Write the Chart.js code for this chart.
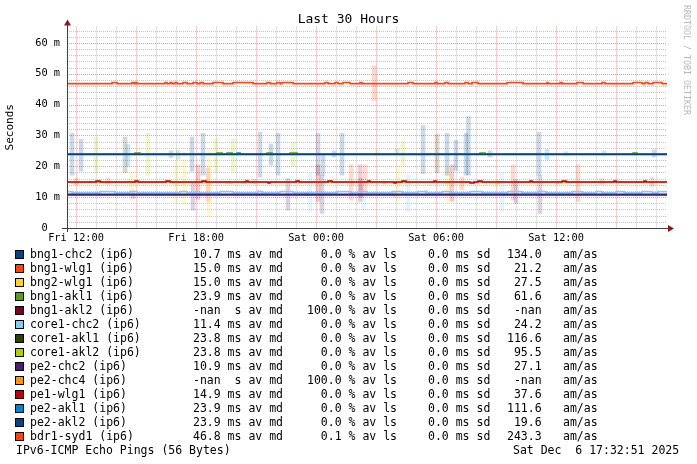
<!DOCTYPE html>
<html><head><meta charset="utf-8">
<script src="https://cdn.jsdelivr.net/npm/chart.js@4/dist/chart.umd.min.js"></script>
<style>
html,body{margin:0;padding:0;background:#fff;}
#wrap{position:relative;width:697px;height:464px;overflow:hidden;font-family:'DejaVu Sans Mono',monospace;}
canvas{position:absolute;left:0;top:0;}
.t{position:absolute;white-space:pre;font-size:11.5px;line-height:14px;color:#000;}
.sw{position:absolute;width:7px;height:7px;border:1px solid #000;}
#wm{position:absolute;left:682px;top:5px;writing-mode:vertical-rl;font-size:8.3px;line-height:10px;color:#b8b8b8;white-space:pre;}
#title{position:absolute;left:0;width:697px;top:11px;text-align:center;font-size:13px;line-height:16px;color:#000;white-space:pre;}
</style></head><body>
<div id="wrap"><canvas id="c" width="697" height="464"></canvas><div id="title"></div><div id="wm">RRDTOOL / TOBI OETIKER</div></div>
<script>
// ---------- data ----------
const START_HOUR = 11.548;   // Fri 11:33 (hours since Fri 00:00)
const END_HOUR = 41.548;     // Sat 17:33
const xTickHours = [12, 18, 24, 30, 36];
const xTickLabels = ['Fri 12:00', 'Fri 18:00', 'Sat 00:00', 'Sat 06:00', 'Sat 12:00'];
const yTickValues = [0, 10, 20, 30, 40, 50, 60];
const yTickLabels = ['0  ', '10 m', '20 m', '30 m', '40 m', '50 m', '60 m'];

const hostNames = ['bng1-chc2 (ip6)','bng1-wlg1 (ip6)','bng2-wlg1 (ip6)','bng1-akl1 (ip6)','bng1-akl2 (ip6)',
  'core1-chc2 (ip6)','core1-akl1 (ip6)','core1-akl2 (ip6)','pe2-chc2 (ip6)','pe2-chc4 (ip6)',
  'pe1-wlg1 (ip6)','pe2-akl1 (ip6)','pe2-akl2 (ip6)','bdr1-syd1 (ip6)'];
const avMedian = ['10.7','15.0','15.0','23.9','-nan','11.4','23.8','23.8','10.9','-nan','14.9','23.9','23.9','46.8'];
const medianUnit = ['ms','ms','ms','ms',' s','ms','ms','ms','ms',' s','ms','ms','ms','ms'];
const avLoss = ['0.0','0.0','0.0','0.0','100.0','0.0','0.0','0.0','0.0','100.0','0.0','0.0','0.0','0.1'];
const avSd = ['0.0','0.0','0.0','0.0','0.0','0.0','0.0','0.0','0.0','0.0','0.0','0.0','0.0','0.0'];
const amAs = ['134.0','21.2','27.5','61.6','-nan','24.2','116.6','95.5','27.1','-nan','37.6','111.6','19.6','243.3'];
const footerLeft = 'IPv6-ICMP Echo Pings (56 Bytes)';
const footerRight = 'Sat Dec  6 17:32:51 2025';
const chartTitle = 'Last 30 Hours';
const yTitle = 'Seconds';

// median lines: [hour, ms] change points (stepped)
const bng1Chc2 = [[11.548,10.7],[41.548,10.7]];
const bng1Wlg1 = [[11.548,14.9],[41.548,14.9]];
const bng2Wlg1 = [[11.548,14.9],[19.5,14.6],[19.8,14.9],[20.3,14.6],[20.5,14.9],[27.3,14.6],[27.5,14.9],[30.5,14.6],[30.7,14.9],[33.0,14.6],[33.3,14.9],[36.0,14.6],[36.2,14.9],[41.548,14.9]];
const bng1Akl1 = [[11.548,23.9],[14.95,24.3],[15.2,23.9],[19.05,24.3],[19.3,23.9],[19.55,24.3],[19.8,23.9],[21.55,24.3],[21.8,23.9],[22.7,24.3],[23.05,23.9],[32.2,24.3],[32.45,23.9],[39.85,24.3],[40.05,23.9],[41.548,23.9]];
const bng1Akl2 = [];
const core1Chc2 = [[11.548,11.8],[11.8,11.4],[13.2,11.8],[13.95,11.4],[14.7,11.8],[15.05,11.4],[17.2,11.8],[17.55,11.4],[19.2,11.8],[19.85,11.4],[21.1,11.8],[21.3,11.4],[22.2,11.8],[22.85,11.4],[25.05,11.8],[25.7,11.4],[26.2,11.8],[26.5,11.4],[27.8,11.8],[28.3,11.4],[29.1,11.8],[29.5,11.4],[30.3,11.8],[30.7,11.4],[31.7,11.8],[32.3,11.4],[33.6,11.8],[34.3,11.4],[35.1,11.8],[35.5,11.4],[36.8,11.8],[37.3,11.4],[38.0,11.8],[38.3,11.4],[39.0,11.8],[39.4,11.4],[40.3,11.8],[40.8,11.4],[41.1,11.8],[41.548,11.8]];
const core1Akl1 = [[11.548,23.8],[41.548,23.8]];
const core1Akl2 = [[11.548,23.8],[41.548,23.8]];
const pe2Chc2 = [[11.548,10.9],[41.548,10.9]];
const pe2Chc4 = [];
const pe1Wlg1 = [[11.548,14.9],[13.0,15.2],[13.2,14.9],[14.95,15.2],[15.1,14.9],[16.5,15.2],[16.7,14.9],[18.3,15.2],[18.5,14.9],[20.5,15.2],[20.6,14.9],[21.6,14.6],[21.7,14.9],[23.0,15.2],[23.15,14.9],[24.6,15.2],[24.8,14.9],[26.6,15.2],[26.7,14.9],[27.9,14.6],[28.0,14.9],[28.3,15.2],[28.5,14.9],[29.9,15.2],[30.0,14.9],[31.7,14.6],[31.9,14.9],[32.1,15.2],[32.3,14.9],[34.7,15.2],[34.8,14.9],[36.3,15.2],[36.5,14.9],[38.9,15.2],[39.0,14.9],[40.4,15.2],[40.5,14.9],[41.548,14.9]];
const pe2Akl1 = [[11.548,23.9],[20.05,24.3],[20.2,23.9],[41.548,23.9]];
const pe2Akl2 = [[11.548,23.9],[41.548,23.9]];
const bdr1Syd1 = [[11.548,46.8],[13.8,47.15],[14.05,46.8],[14.8,47.15],[14.9,46.8],[14.95,47.15],[15.05,46.8],[16.45,47.15],[16.55,46.8],[16.7,47.15],[16.8,46.8],[16.95,47.15],[17.05,46.8],[17.35,47.15],[17.55,46.8],[17.85,47.15],[18.05,46.8],[18.2,47.15],[18.35,46.8],[18.85,47.15],[19.35,46.8],[19.85,47.15],[20.85,46.8],[21.55,47.15],[21.7,46.8],[22.05,47.15],[22.2,46.8],[22.3,47.15],[22.85,46.8],[24.45,47.15],[24.6,46.8],[24.95,47.15],[25.1,46.8],[25.35,47.15],[25.7,46.8],[26.2,47.15],[26.3,46.8],[28.6,47.15],[28.85,46.8],[29.95,47.15],[30.05,46.8],[30.45,47.15],[30.6,46.8],[31.45,47.15],[31.6,46.8],[31.8,47.15],[32.1,46.8],[33.55,47.15],[34.35,46.8],[35.55,47.15],[35.6,46.8],[36.2,47.15],[36.3,46.8],[37.05,47.15],[37.35,46.8],[38.3,47.15],[38.45,46.8],[39.85,47.15],[40.3,46.8],[40.45,47.15],[40.6,46.8],[40.85,47.15],[41.3,46.8],[41.548,46.8]];

// smoke (ping spread): [hour, low ms, high ms]
const smokeBng1Chc2 = [];
const smokeBng1Wlg1 = [[12.0,14.0,16.0],[13.6,14.2,16.2],[18.6,8.7,19.4],[20.9,14.4,15.8],[25.75,9.0,20.5],[26.45,11.0,20.5],[31.3,12.4,16.5],[33.85,9.0,20.5],[37.1,8.6,20.5],[38.3,14.2,16.0],[40.8,13.5,16.5]];
const smokeBng2Wlg1 = [[14.8,11.7,18.2],[17.0,8.5,21.4],[17.4,8.0,22.0],[18.65,3.5,26.0],[28.1,8.6,20.5],[30.6,8.6,19.4],[33.0,13.5,15.5]];
const smokeBng1Akl1 = [[17.1,22.2,25.2],[28.05,24.0,25.6]];
const smokeBng1Akl2 = [];
const smokeCore1Chc2 = [[21.2,10.0,12.5],[23.7,5.3,17.7],[26.4,5.8,11.5],[28.6,5.3,17.1],[29.5,11.5,12.5],[33.3,5.3,17.7]];
const smokeCore1Akl1 = [[14.45,18.0,29.5],[16.75,22.8,25.0],[30.05,17.9,30.3]];
const smokeCore1Akl2 = [[13.0,17.8,29.5],[15.6,17.1,30.7],[19.0,18.0,29.0],[19.85,18.2,29.0],[22.85,20.0,27.9],[27.05,23.5,25.2],[28.35,20.3,28.3]];
const smokePe2Chc2 = [[14.85,9.6,12.0],[17.85,5.8,14.9],[22.6,5.8,16.0],[23.5,10.5,11.3],[24.3,4.7,17.1],[26.25,10.0,16.0],[27.9,10.3,11.5],[34.0,8.0,15.6],[35.2,4.7,17.1]];
const smokePe2Chc4 = [];
const smokePe1Wlg1 = [[18.1,9.3,20.5],[24.1,8.6,20.5],[26.2,8.6,20.5],[30.8,8.6,20.5]];
const smokePe2Akl1 = [[14.6,20.0,27.0],[35.55,22.2,25.6],[36.5,23.5,24.8],[38.4,23.5,25.0]];
const smokePe2Akl2 = [[11.8,17.1,30.7],[12.25,18.4,28.7],[17.4,23.7,24.3],[17.8,18.3,29.5],[18.35,17.1,30.7],[21.2,16.5,31.0],[21.75,20.4,27.2],[22.1,17.1,30.7],[24.1,17.1,30.7],[24.35,17.1,24.0],[24.9,23.0,25.0],[25.3,17.1,30.7],[29.35,17.6,33.2],[29.7,23.7,24.3],[30.55,17.1,30.7],[31.0,18.7,28.4],[31.5,17.1,30.7],[31.62,17.1,36.1],[32.7,23.0,25.0],[35.15,17.1,31.0],[40.9,23.0,25.3]];
const smokeBdr1Syd1 = [[26.9,41.3,52.6]];

const lineSeries = [bng1Chc2,bng1Wlg1,bng2Wlg1,bng1Akl1,bng1Akl2,core1Chc2,core1Akl1,core1Akl2,pe2Chc2,pe2Chc4,pe1Wlg1,pe2Akl1,pe2Akl2,bdr1Syd1];
const smokeSeries = [smokeBng1Chc2,smokeBng1Wlg1,smokeBng2Wlg1,smokeBng1Akl1,smokeBng1Akl2,smokeCore1Chc2,smokeCore1Akl1,smokeCore1Akl2,smokePe2Chc2,smokePe2Chc4,smokePe1Wlg1,smokePe2Akl1,smokePe2Akl2,smokeBdr1Syd1];

// ---------- styles ----------
const palette = ['#004586','#ff420e','#ffd320','#579d1c','#7e0021','#83caff','#314004','#aecf00','#4b1f6f','#ff950e','#c5000b','#0084d1','#004586','#ff420e'];
function rgba(hex, a){const n=parseInt(hex.slice(1),16);return `rgba(${n>>16},${(n>>8)&255},${n&255},${a})`;}
const FONT = "'DejaVu Sans Mono', monospace";
const minorGrid = 'rgba(150,150,150,0.55)';
const majorGrid = 'rgba(225,70,70,0.55)';

// ---------- datasets ----------
const datasets = [];
const n = hostNames.length;
for (let i = 0; i < n; i++) {
  datasets.push({
    type: 'bar',
    data: smokeSeries[i].map(p => ({x: p[0], y: [p[1], p[2]]})),
    backgroundColor: rgba(palette[i], 0.2),
    borderWidth: 0,
    barThickness: 4,
    grouped: false,
    order: 100 + (n - i)
  });
  datasets.push({
    type: 'line',
    data: lineSeries[i].map(p => ({x: p[0], y: p[1]})),
    borderColor: palette[i],
    borderWidth: 1.6,
    pointRadius: 0,
    stepped: true,
    fill: false,
    order: n - i
  });
}

// dotted rrdtool-style grid drawn from the scales' own ticks
const gridPlugin = {
  id: 'rrdGrid',
  beforeDatasetsDraw(chart) {
    const {ctx, chartArea: a, scales: {x, y}} = chart;
    ctx.save();
    ctx.lineWidth = 1;
    ctx.setLineDash([1, 1]);
    const draw = (major) => {
      ctx.strokeStyle = major ? majorGrid : minorGrid;
      ctx.beginPath();
      x.ticks.forEach(t => {
        if ((t.value % 3 === 0) !== major) return;
        const px = Math.round(x.getPixelForValue(t.value)) + 0.5;
        ctx.moveTo(px, a.top); ctx.lineTo(px, a.bottom);
      });
      y.ticks.forEach(t => {
        if ((t.value % 10 === 0) !== major) return;
        const py = Math.round(y.getPixelForValue(t.value)) + 0.5;
        ctx.moveTo(a.left, py); ctx.lineTo(a.right, py);
      });
      ctx.stroke();
    };
    draw(false); draw(true);
    ctx.restore();
  }
};

const axesPlugin = {
  id: 'rrdAxes',
  afterDatasetsDraw(chart) {
    const {ctx, chartArea: a} = chart;
    ctx.save();
    ctx.strokeStyle = '#404040';
    ctx.lineWidth = 1;
    ctx.beginPath();
    ctx.moveTo(a.left - 5, Math.round(a.bottom) + 0.5);
    ctx.lineTo(a.right + 3, Math.round(a.bottom) + 0.5);
    ctx.moveTo(Math.round(a.left) + 0.5, a.bottom + 4);
    ctx.lineTo(Math.round(a.left) + 0.5, a.top - 2);
    ctx.stroke();
    ctx.fillStyle = '#8b1a1a';
    const by = Math.round(a.bottom) + 0.5, lx = Math.round(a.left) + 0.5;
    ctx.beginPath();
    ctx.moveTo(a.right + 1, by - 3.5); ctx.lineTo(a.right + 7, by); ctx.lineTo(a.right + 1, by + 3.5); ctx.closePath(); ctx.fill();
    ctx.beginPath();
    ctx.moveTo(lx - 3.5, a.top - 1); ctx.lineTo(lx, a.top - 7); ctx.lineTo(lx + 3.5, a.top - 1); ctx.closePath(); ctx.fill();
    ctx.restore();
  }
};

new Chart(document.getElementById('c'), {
  type: 'line',
  data: {datasets},
  plugins: [gridPlugin, axesPlugin],
  options: {
    responsive: false,
    animation: false,
    devicePixelRatio: 1,
    layout: {padding: {left: 0, right: 30, top: 26.5, bottom: 216}},
    plugins: {
      legend: {display: false},
      tooltip: {enabled: false},
      title: {display: false}
    },
    scales: {
      x: {
        type: 'linear', min: START_HOUR, max: END_HOUR, offset: false,
        afterBuildTicks: s => { const t = []; for (let h = Math.ceil(START_HOUR); h <= END_HOUR; h++) t.push({value: h}); s.ticks = t; },
        afterFit: s => { s.height = 20; },
        grid: {display: false, drawTicks: false},
        border: {display: false},
        ticks: {autoSkip: false, maxRotation: 0, padding: 4, color: '#000', font: {family: FONT, size: 10.3},
          callback: v => { const k = xTickHours.indexOf(v); return k >= 0 ? xTickLabels[k] : ''; }}
      },
      y: {
        type: 'linear', min: 0, max: 65.3,
        afterBuildTicks: s => { const t = []; for (let v = 0; v <= 64; v += 2) t.push({value: v}); s.ticks = t; },
        afterFit: s => { s.width = 67; },
        grid: {display: false, drawTicks: false},
        border: {display: false},
        title: {display: true, text: yTitle, color: '#000', font: {family: FONT, size: 11}, padding: {top: 4, bottom: 0}},
        ticks: {autoSkip: false, padding: 7, color: '#000', font: {family: FONT, size: 10.3},
          callback: v => { const k = yTickValues.indexOf(v); return k >= 0 ? yTickLabels[k] : ''; }}
      }
    }
  }
});

// ---------- title + legend (HTML text) ----------
document.getElementById('title').textContent = chartTitle;
const wrap = document.getElementById('wrap');
function addText(txt, left, top) {
  const d = document.createElement('div');
  d.className = 't'; d.style.left = left + 'px'; d.style.top = top + 'px'; d.textContent = txt;
  wrap.appendChild(d);
}
for (let i = 0; i < n; i++) {
  const top = 247 + 14 * i;
  const sw = document.createElement('div');
  sw.className = 'sw'; sw.style.left = '15px'; sw.style.top = (top + 3) + 'px'; sw.style.background = palette[i];
  wrap.appendChild(sw);
  addText(hostNames[i], 30, top);
  addText(avMedian[i].padStart(4) + ' ' + medianUnit[i] + ' av md', 193, top);
  addText(avLoss[i].padStart(5) + ' % av ls', 307, top);
  addText(avSd[i] + ' ms sd', 428, top);
  addText(amAs[i].padStart(5), 507, top);
  addText('am/as', 563, top);
}
addText(footerLeft, 16, 443);
addText(footerRight, 513, 443);
</script>
</body></html>
